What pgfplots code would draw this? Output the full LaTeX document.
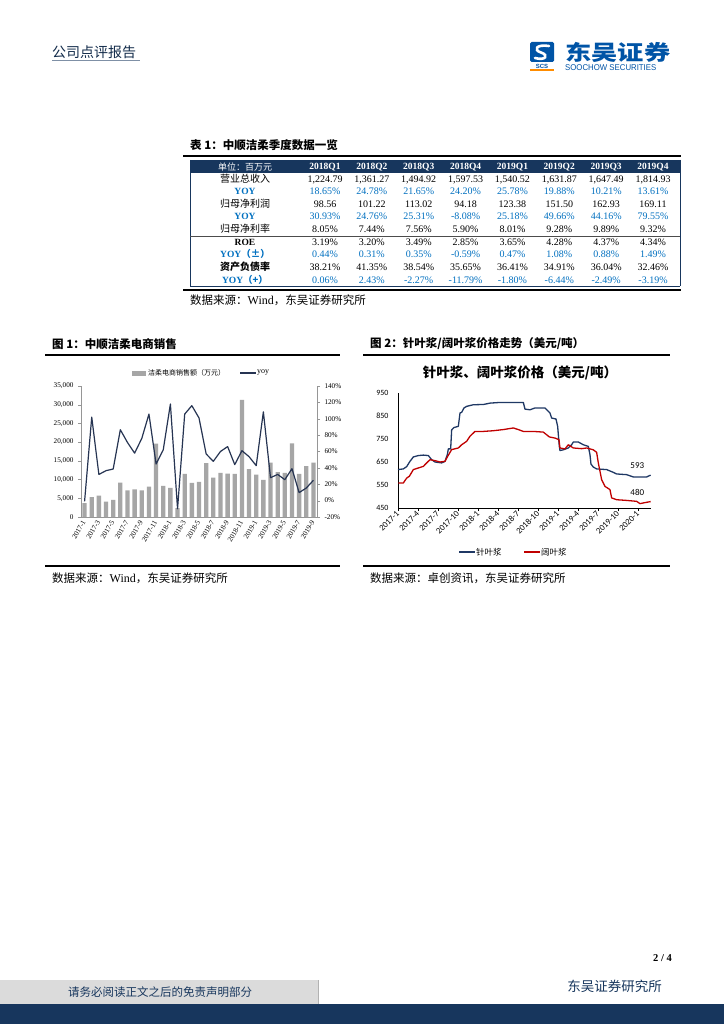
\documentclass[border=0pt]{standalone}
\usepackage{fontspec}
\setmainfont{Liberation Serif}
\newfontfamily\cjk{Noto Sans CJK SC}
\newfontfamily\calfont{Carlito}
\newfontfamily\ars{Liberation Sans}
\usepackage{pgfplots}
\pgfplotsset{compat=1.18}

\definecolor{navy}{RGB}{23,54,93}
\definecolor{tblblue}{RGB}{0,112,192}
\definecolor{bargray}{RGB}{166,166,166}
\definecolor{yoyline}{RGB}{38,52,82}
\definecolor{softblue}{RGB}{31,56,100}
\definecolor{hardred}{RGB}{192,0,0}
\definecolor{logoblue}{RGB}{0,84,166}
\definecolor{axgray}{RGB}{150,150,150}

\pgfplotsset{
  every non boxed x axis/.append style={x axis line style={-}},
  every non boxed y axis/.append style={y axis line style={-}},
}

% one table row: y, colour, label, eight values
\newcommand\trow[4]{%
  \node[anchor=center, text height=7pt, text depth=2pt] at (245,#1) {#3};
  \foreach \v [count=\i from 0] in {#4}
    \node[anchor=center, text=#2, text height=7pt, text depth=2pt,
          font=\fontsize{10}{12}\selectfont] at ({325+46.86*\i},#1) {\v};
}

\begin{document}
\begin{tikzpicture}
\begin{scope}[x=1pt,y=-1pt]
\path[fill=white, use as bounding box] (0,0) rectangle (724,1024);

% header
\node[anchor=west, inner sep=0pt, text=navy!80!black] at (52,52)
  {\cjk\fontsize{14}{16}\selectfont 公司点评报告};
\draw[line width=1.2pt, draw=navy!55] (52,60.5) -- (140,60.5);
\fill[logoblue, rounded corners=1.5pt] (530,42) rectangle (554,62);
\draw[white, line width=2.6pt, line cap=round] (549,46) .. controls (536,44) and (533,50) .. (541,52.5)
  .. controls (549,55) and (546,61) .. (535,58);
\node[inner sep=0pt, text=logoblue] at (542,66.5) {\ars\bfseries\fontsize{6}{6}\selectfont SCS};
\fill[orange!90!yellow] (530,69.5) rectangle (554,71);
\node[anchor=west, inner sep=0pt, text=logoblue, xscale=1.25] at (565,52)
  {\cjk\bfseries\fontsize{21}{22}\selectfont 东吴证券};
\node[anchor=west, inner sep=0pt, text=logoblue, xscale=0.93] at (565,67.5)
  {\ars\fontsize{8.4}{9}\selectfont SOOCHOW SECURITIES};

% table 1
\node[anchor=west, inner sep=0pt] at (190,145)
  {\cjk\bfseries\fontsize{11.5}{13}\selectfont 表 1：中顺洁柔季度数据一览};
\draw[line width=1.6pt] (183,156) -- (681,156);
\fill[navy] (190,160) rectangle (680,173.5);
\draw[line width=0.5pt, draw=navy] (190,160) -- (190,286) (680,160) -- (680,286);
\node[text=white, anchor=center] at (245,166.8)
  {\cjk\fontsize{9}{10}\selectfont 单位：百万元};
\foreach \h [count=\i from 0] in {2018Q1,2018Q2,2018Q3,2018Q4,2019Q1,2019Q2,2019Q3,2019Q4}
  \node[text=white, anchor=center, font=\bfseries\fontsize{9.5}{11}\selectfont]
    at ({325+46.86*\i},166.8) {\h};
\trow{180}{black}{\cjk\fontsize{10}{12}\selectfont 营业总收入}
  {{1,224.79},{1,361.27},{1,494.92},{1,597.53},{1,540.52},{1,631.87},{1,647.49},{1,814.93}}
\trow{192.5}{tblblue}{\textcolor{tblblue}{\bfseries\fontsize{9.5}{11}\selectfont YOY}}
  {18.65\%,24.78\%,21.65\%,24.20\%,25.78\%,19.88\%,10.21\%,13.61\%}
\trow{205}{black}{\cjk\fontsize{10}{12}\selectfont 归母净利润}
  {98.56,101.22,113.02,94.18,123.38,151.50,162.93,169.11}
\trow{217.5}{tblblue}{\textcolor{tblblue}{\bfseries\fontsize{9.5}{11}\selectfont YOY}}
  {30.93\%,24.76\%,25.31\%,-8.08\%,25.18\%,49.66\%,44.16\%,79.55\%}
\trow{230}{black}{\cjk\fontsize{10}{12}\selectfont 归母净利率}
  {8.05\%,7.44\%,7.56\%,5.90\%,8.01\%,9.28\%,9.89\%,9.32\%}
\draw[line width=0.6pt, draw=black!70] (190,236.5) -- (680,236.5);
\trow{243}{black}{\bfseries\fontsize{9.5}{11}\selectfont ROE}
  {3.19\%,3.20\%,3.49\%,2.85\%,3.65\%,4.28\%,4.37\%,4.34\%}
\trow{255.5}{tblblue}{\textcolor{tblblue}{\bfseries\fontsize{9.5}{11}\selectfont YOY{\cjk（±）}}}
  {0.44\%,0.31\%,0.35\%,-0.59\%,0.47\%,1.08\%,0.88\%,1.49\%}
\trow{268}{black}{\cjk\bfseries\fontsize{10}{12}\selectfont 资产负债率}
  {38.21\%,41.35\%,38.54\%,35.65\%,36.41\%,34.91\%,36.04\%,32.46\%}
\trow{280.5}{tblblue}{\textcolor{tblblue}{\bfseries\fontsize{9.5}{11}\selectfont YOY{\cjk（+）}}}
  {0.06\%,2.43\%,-2.27\%,-11.79\%,-1.80\%,-6.44\%,-2.49\%,-3.19\%}
\draw[line width=0.8pt, draw=navy] (190,286) -- (680,286);
\draw[line width=1.6pt] (183,290) -- (681,290);
\node[anchor=west, inner sep=0pt] at (190,300.5)
  {{\cjk\fontsize{11.5}{13}\selectfont 数据来源：}{\fontsize{12}{13}\selectfont Wind}{\cjk\fontsize{11.5}{13}\selectfont ，东吴证券研究所}};

% figure titles and rules
\node[anchor=west, inner sep=0pt] at (52,344)
  {\cjk\bfseries\fontsize{11.5}{13}\selectfont 图 1：中顺洁柔电商销售};
\draw[line width=1.6pt] (45,355) -- (340,355);
\node[anchor=west, inner sep=0pt] at (370,344)
  {\cjk\bfseries\fontsize{11.5}{13}\selectfont 图 2：针叶浆/阔叶浆价格走势（美元/吨）};
\draw[line width=1.6pt] (363,355) -- (670,355);

% figure 1 legend
\fill[bargray] (132,370.5) rectangle (146,375.5);
\node[anchor=west, inner sep=1pt] at (147,373) {\cjk\fontsize{7}{8}\selectfont 洁柔电商销售额（万元）};
\draw[yoyline, line width=1.2pt] (240,373) -- (256,373);
\node[anchor=west, inner sep=1pt] at (256,372.5) {\fontsize{8}{9}\selectfont yoy};

% figure 2 inner title, legend, labels
\node[inner sep=0pt] at (520,373)
  {\cjk\bfseries\fontsize{13.5}{15}\selectfont 针叶浆、阔叶浆价格（美元/吨）};
\draw[softblue, line width=1.5pt] (459,552) -- (475,552);
\node[anchor=west, inner sep=1pt] at (475,552) {\cjk\fontsize{8.5}{10}\selectfont 针叶浆};
\draw[hardred, line width=1.5pt] (524,552) -- (540,552);
\node[anchor=west, inner sep=1pt] at (540,552) {\cjk\fontsize{8.5}{10}\selectfont 阔叶浆};

% sources
\draw[line width=1.6pt] (45,566) -- (340,566);
\draw[line width=1.6pt] (363,566) -- (670,566);
\node[anchor=west, inner sep=0pt] at (52,578)
  {{\cjk\fontsize{11.5}{13}\selectfont 数据来源：}{\fontsize{12}{13}\selectfont Wind}{\cjk\fontsize{11.5}{13}\selectfont ，东吴证券研究所}};
\node[anchor=west, inner sep=0pt] at (370,578)
  {\cjk\fontsize{11.5}{13}\selectfont 数据来源：卓创资讯，东吴证券研究所};

% footer
\node[anchor=east, inner sep=0pt] at (672,958) {\bfseries\fontsize{10.5}{12}\selectfont 2 / 4};
\node[anchor=east, inner sep=0pt, text=navy] at (662,986) {\cjk\fontsize{13.5}{15}\selectfont 东吴证券研究所};
\fill[black!14] (0,980) rectangle (318,1004);
\draw[black!30, line width=1pt] (318,980) -- (318,1004);
\node[inner sep=0pt, text=navy] at (160,992) {\cjk\fontsize{11.5}{13}\selectfont 请务必阅读正文之后的免责声明部分};
\fill[navy] (0,1004) rectangle (724,1024);
\end{scope}

% figure 1: bars on the left axis
\begin{axis}[
  at={(81pt,-517pt)}, anchor=south west,
  scale only axis, width=236pt, height=131pt,
  xmin=-0.5, xmax=32.5, ymin=0, ymax=35000,
  axis x line*=bottom, axis y line*=left,
  axis line style={draw=axgray},
  ybar, bar width=4.3pt,
  ytick={0,5000,...,35000}, scaled y ticks=false,
  /pgf/number format/1000 sep={,},
  /pgf/number format/assume math mode=true,
  yticklabel style={font=\fontsize{7.2}{8}\selectfont, xshift=-1pt},
  xtick={0,2,...,32},
  xticklabels={2017-1,2017-3,2017-5,2017-7,2017-9,2017-11,2018-1,2018-3,2018-5,2018-7,2018-9,2018-11,2019-1,2019-3,2019-5,2019-7,2019-9},
  xticklabel style={rotate=60, anchor=east, font=\fontsize{7.2}{8}\selectfont, inner sep=1pt},
  xtick style={draw=none},
  ytick style={draw=axgray},
  major tick length=3pt, tick align=outside,
  clip=false,
]
\addplot[fill=bargray, draw=none] coordinates {
  (0,3700) (1,5300) (2,5700) (3,4100) (4,4600) (5,9200) (6,7100) (7,7400)
  (8,7100) (9,8100) (10,19600) (11,8300) (12,7800) (13,2400) (14,11500) (15,9100)
  (16,9400) (17,14400) (18,10500) (19,11800) (20,11600) (21,11500) (22,31300) (23,12800)
  (24,11300) (25,9900) (26,14500) (27,12000) (28,11800) (29,19700) (30,11500) (31,13600)
  (32,14500)
};
\end{axis}

% figure 1: yoy on the right axis
\begin{axis}[
  at={(81pt,-517pt)}, anchor=south west,
  scale only axis, width=236pt, height=131pt,
  xmin=-0.5, xmax=32.5, ymin=-20, ymax=140,
  axis x line=none, axis y line*=right,
  axis line style={draw=axgray},
  ytick={-20,0,...,140},
  /pgf/number format/assume math mode=true,
  yticklabel={\pgfmathprintnumber{\tick}\%},
  yticklabel style={font=\fontsize{7.2}{8}\selectfont, xshift=1pt},
  ytick style={draw=axgray},
  major tick length=3pt, tick align=outside,
  clip=false,
]
\addplot[yoyline, line width=1.2pt, line join=round] coordinates {
  (0,-1) (1,102) (2,32) (3,36.6) (4,38.6) (5,86.6) (6,71) (7,58)
  (8,76) (9,105.7) (10,44.7) (11,62) (12,118) (13,-10) (14,105.7) (15,116)
  (16,101) (17,57) (18,48) (19,60) (20,66) (21,44) (22,61) (23,53.7)
  (24,42.7) (25,108.5) (26,28) (27,32) (28,25.6) (29,39) (30,9.8) (31,15.4)
  (32,24.8)
};
\end{axis}

% figure 2: pulp prices
\begin{axis}[
  at={(398pt,-508pt)}, anchor=south west,
  scale only axis, width=253.3pt, height=115pt,
  xmin=0, xmax=38, ymin=450, ymax=950,
  axis x line*=bottom, axis y line*=left,
  axis line style={draw=black, line width=0.6pt},
  ytick={450,550,...,950},
  /pgf/number format/assume math mode=true,
  yticklabel style={font=\calfont\fontsize{8}{9}\selectfont, xshift=-3pt},
  ytick style={draw=none},
  xtick={0,3,...,36},
  xticklabels={2017-1,2017-4,2017-7,2017-10,2018-1,2018-4,2018-7,2018-10,2019-1,2019-4,2019-7,2019-10,2020-1},
  xticklabel style={rotate=45, anchor=east, font=\calfont\fontsize{8.6}{9}\selectfont, inner sep=1pt, yshift=-1pt},
  xtick style={draw=black, line width=0.5pt},
  major tick length=3pt, tick align=outside,
  clip=false,
]
\addplot[softblue, line width=1.3pt, line join=round] coordinates {
  (0,617) (0.8,620) (1.3,630) (1.8,653) (2.3,672) (3.05,678) (3.8,680) (4.55,678)
  (5.05,660) (5.55,650) (6.55,646) (7.05,653) (7.4,682) (7.55,707) (7.9,707) (8.05,790)
  (8.4,800) (9.05,805) (9.3,863) (9.55,866) (9.9,885) (10.3,892) (11.3,899) (12.8,900)
  (13.8,906) (15.3,909) (18.8,909) (19.05,880) (19.8,877) (20.55,885) (22.05,885) (22.8,863)
  (23.05,841) (23.7,837) (23.95,805) (24.2,718) (24.3,700) (24.8,703) (25.55,711) (26.05,725)
  (26.3,737) (27.05,737) (27.8,725) (28.55,718) (28.8,682) (28.95,641) (29.3,628) (29.8,620)
  (31.3,617) (32.3,605) (32.8,598) (34.3,595) (35.3,585) (37.3,585) (37.9,593)
};
\addplot[hardred, line width=1.3pt, line join=round] coordinates {
  (0.05,559) (0.8,559) (1.3,580) (1.7,588) (2.3,617) (3.05,624) (3.8,631) (4.3,646)
  (4.8,660) (5.55,656) (6.3,650) (7.05,653) (7.4,672) (8.05,704) (9.05,711) (9.55,725)
  (10.3,740) (10.8,762) (11.55,783) (12.8,783) (14.3,786) (15.8,791) (17.3,798) (18.05,791)
  (18.8,783) (20.3,783) (21.8,780) (22.7,759) (23.55,754) (24.15,747) (24.3,711) (25.05,707)
  (25.55,725) (26.3,711) (27.55,708) (28.3,711) (29.3,703) (29.8,692) (30.05,646) (30.3,610)
  (30.55,573) (31.05,544) (31.8,530) (32.05,494) (32.8,486) (34.3,483) (35.8,479) (36.3,469)
  (36.8,472) (37.9,478)
};
\node[font=\calfont\fontsize{9}{10}\selectfont] at (axis cs:35.9,633) {593};
\node[font=\calfont\fontsize{9}{10}\selectfont] at (axis cs:35.9,517) {480};
\end{axis}
\end{tikzpicture}
\end{document}
